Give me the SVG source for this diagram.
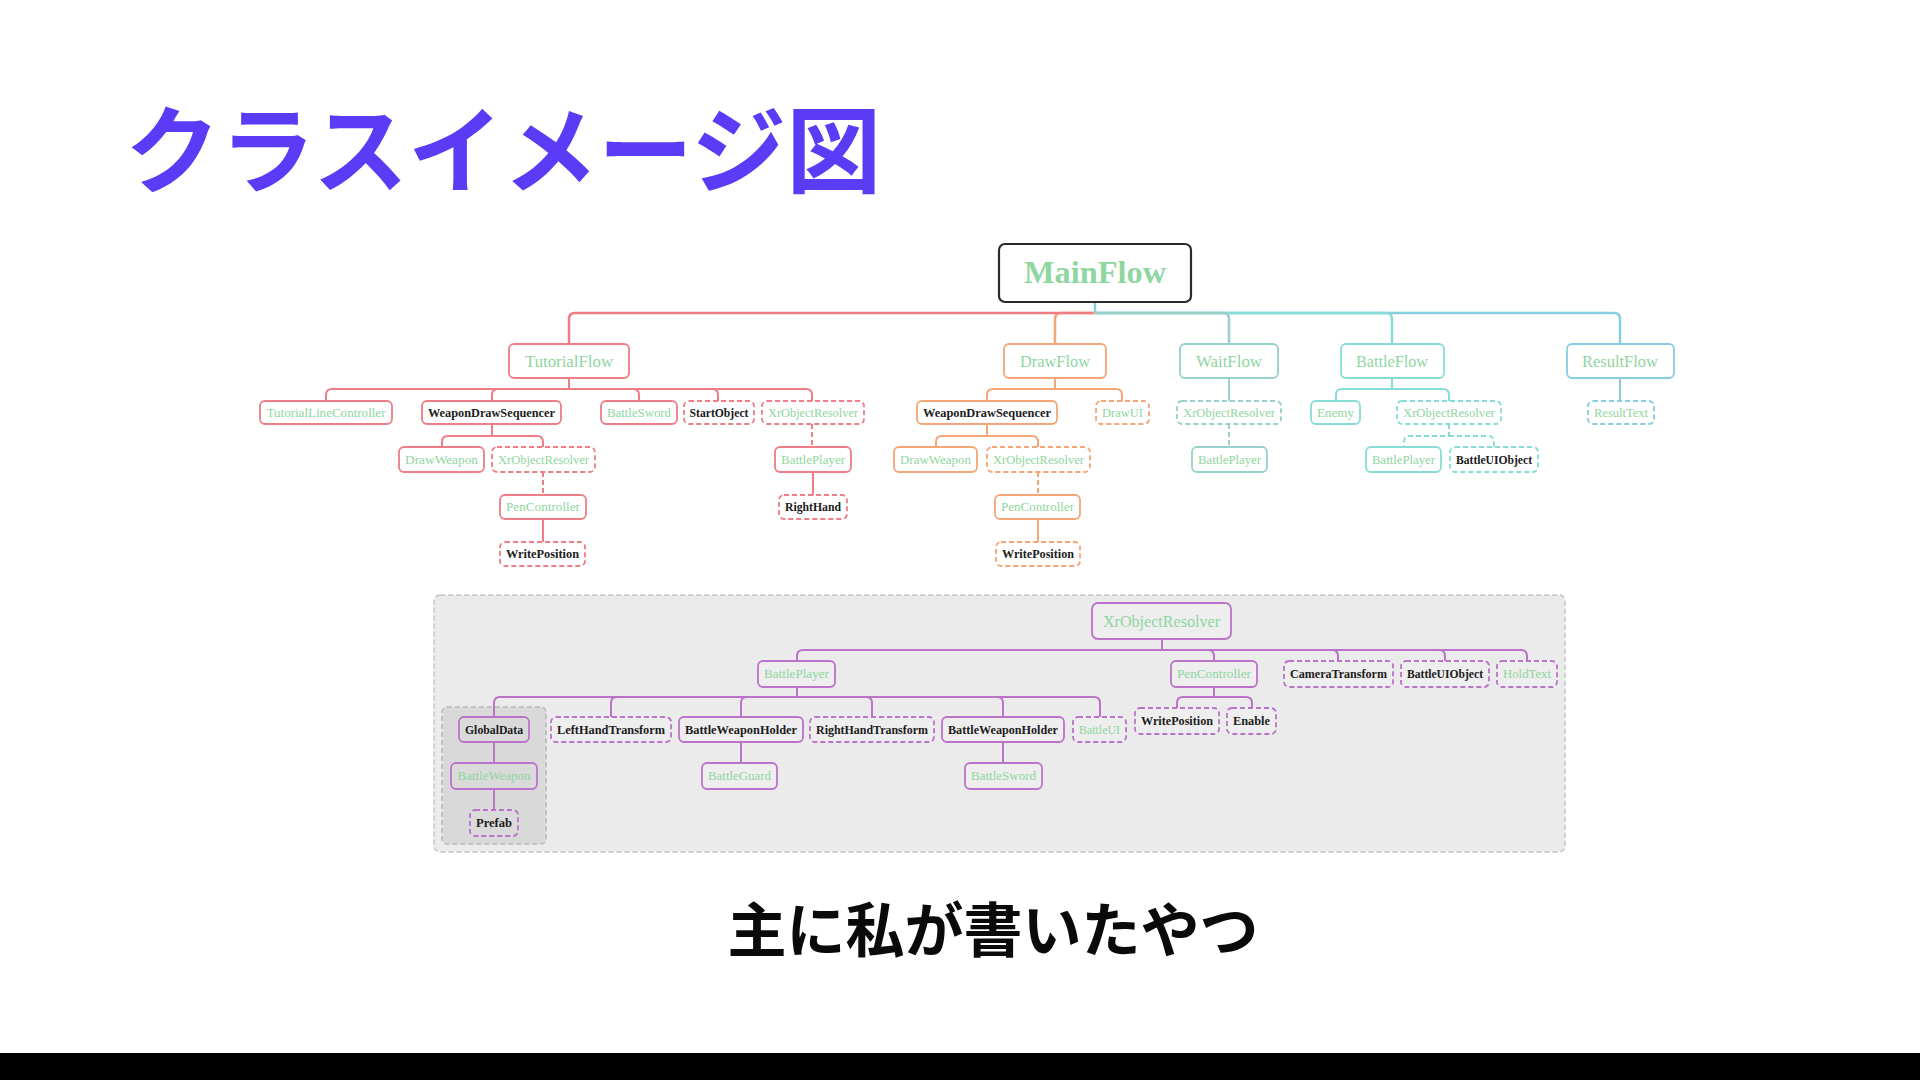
<svg xmlns="http://www.w3.org/2000/svg" width="1920" height="1080" viewBox="0 0 1920 1080">
<style>
.n rect{fill:#fff;stroke-width:1.8}
.pn rect{fill:#eeeeee}
.in rect{fill:#dadada}
.d rect{stroke-dasharray:5 3}
.r rect{stroke:#ee7d86}.o rect{stroke:#f4a677}.t1 rect{stroke:#98d0cc}.t2 rect{stroke:#88dcd6}.t3 rect{stroke:#86cde0}.p rect{stroke:#bb72c9}
text{font-family:"Liberation Serif","DejaVu Serif",serif;text-anchor:middle}
.s{font-size:11.5px}.m{font-size:16px}
.g{fill:#8fd6a0}.k{fill:#1c1c1c;font-weight:bold}
#connectors path{fill:none;stroke-width:2}
#connectors .cr{stroke:#ee7d86}#connectors .co{stroke:#f4a677}#connectors .c1{stroke:#98d0cc}#connectors .c2{stroke:#88dcd6}#connectors .c3{stroke:#86cde0}#connectors .cp{stroke:#bb72c9}
#connectors .dash{stroke-dasharray:5 3}
#connectors .main{stroke-width:2.5}
</style>
<rect x="0" y="0" width="1920" height="1080" fill="#ffffff"/>
<text x="125" y="186" style="font-family:'Noto Sans CJK JP','Noto Sans CJK SC',sans-serif;font-size:95px;font-weight:bold;fill:#5b3bf5;text-anchor:start">クラスイメージ図</text>

<g id="panel">
<rect x="434" y="595" width="1131" height="257" rx="6" fill="#ebebeb" stroke="#c4c4c4" stroke-width="1.5" stroke-dasharray="5 3"/>
<rect x="442" y="707" width="104" height="137" rx="5" fill="#d9d9d9" stroke="#b8b8b8" stroke-width="1.5" stroke-dasharray="5 3"/>
</g>

<g id="connectors">
<path class="c3 main" d="M1095 302 V313 H1614 Q1620 313 1620 319 V344"/>
<path class="c2 main" d="M1095 313 H1386 Q1392 313 1392 319 V344"/>
<path class="c1 main" d="M1095 313 H1223 Q1229 313 1229 319 V344"/>
<path class="co main" d="M1095 313 H1061 Q1055 313 1055 319 V344"/>
<path class="cr main" d="M1093 313 H575 Q569 313 569 319 V344"/>
<path class="cr" d="M569 378 V389 H332 Q326 389 326 395 V401"/>
<path class="cr" d="M569 389 H498 Q492 389 492 395 V401"/>
<path class="cr" d="M569 389 H633 Q639 389 639 395 V401"/>
<path class="cr" d="M569 389 H712 Q718 389 718 395 V401"/>
<path class="cr" d="M569 389 H806 Q812 389 812 395 V401"/>
<path class="cr" d="M492 424 V436 H448 Q442 436 442 442 V447"/>
<path class="cr" d="M492 436 H537 Q543 436 543 442 V447"/>
<path class="cr dash" d="M543 472 V495"/>
<path class="cr" d="M543 519 V542"/>
<path class="cr dash" d="M812 424 V447"/>
<path class="cr" d="M813 472 V495"/>
<path class="co" d="M1055 378 V389 H993 Q987 389 987 395 V401"/>
<path class="co" d="M1055 389 H1116 Q1122 389 1122 395 V401"/>
<path class="co" d="M987 424 V436 H942 Q936 436 936 442 V447"/>
<path class="co" d="M987 436 H1032 Q1038 436 1038 442 V447"/>
<path class="co dash" d="M1038 472 V495"/>
<path class="co" d="M1038 519 V542"/>
<path class="c1" d="M1229 378 V401"/>
<path class="c1 dash" d="M1229 424 V447"/>
<path class="c2" d="M1392 378 V389 H1342 Q1336 389 1336 395 V401"/>
<path class="c2" d="M1392 389 H1443 Q1449 389 1449 395 V401"/>
<path class="c2 dash" d="M1449 424 V436 H1410 Q1404 436 1404 442 V447"/>
<path class="c2 dash" d="M1449 436 H1488 Q1494 436 1494 442 V447"/>
<path class="c3" d="M1620 378 V401"/>
<path class="cp" d="M1162 639 V650 H803 Q797 650 797 656 V661"/>
<path class="cp" d="M1162 650 H1208 Q1214 650 1214 656 V661"/>
<path class="cp" d="M1162 650 H1332 Q1338 650 1338 656 V661"/>
<path class="cp" d="M1162 650 H1439 Q1445 650 1445 656 V661"/>
<path class="cp" d="M1162 650 H1521 Q1527 650 1527 656 V661"/>
<path class="cp" d="M797 687 V697 H500 Q494 697 494 703 V717"/>
<path class="cp" d="M797 697 H617 Q611 697 611 703 V717"/>
<path class="cp" d="M797 697 H747 Q741 697 741 703 V717"/>
<path class="cp" d="M797 697 H866 Q872 697 872 703 V717"/>
<path class="cp" d="M797 697 H997 Q1003 697 1003 703 V717"/>
<path class="cp" d="M797 697 H1094 Q1100 697 1100 703 V717"/>
<path class="cp" d="M1214 687 V697 H1183 Q1177 697 1177 703 V708"/>
<path class="cp" d="M1214 697 H1246 Q1252 697 1252 703 V708"/>
<path class="cp" d="M494 742 V763"/>
<path class="cp" d="M494 789 V810"/>
<path class="cp" d="M741 742 V763"/>
<path class="cp" d="M1003 742 V763"/>
</g>

<g id="mainflow"><rect x="999" y="244" width="192" height="58" rx="6" fill="#fff" stroke="#2a2a2a" stroke-width="2.2"/><text x="1095" y="283" textLength="142" lengthAdjust="spacingAndGlyphs" style="font-size:32px;font-weight:bold;fill:#8fd6a0">MainFlow</text></g>

<g id="tutorialflow" class="n r"><rect x="509" y="344" width="120" height="34" rx="5"/><text class="m g" x="569" y="366.5" textLength="88" lengthAdjust="spacingAndGlyphs">TutorialFlow</text></g>
<g id="drawflow" class="n o"><rect x="1004" y="344" width="102" height="34" rx="5"/><text class="m g" x="1055" y="366.5" textLength="70" lengthAdjust="spacingAndGlyphs">DrawFlow</text></g>
<g id="waitflow" class="n t1"><rect x="1180" y="344" width="98" height="34" rx="5"/><text class="m g" x="1229" y="366.5" textLength="66" lengthAdjust="spacingAndGlyphs">WaitFlow</text></g>
<g id="battleflow" class="n t2"><rect x="1341" y="344" width="103" height="34" rx="5"/><text class="m g" x="1392" y="366.5" textLength="72" lengthAdjust="spacingAndGlyphs">BattleFlow</text></g>
<g id="resultflow" class="n t3"><rect x="1567" y="344" width="107" height="34" rx="5"/><text class="m g" x="1620" y="366.5" textLength="76" lengthAdjust="spacingAndGlyphs">ResultFlow</text></g>

<g id="t-tutoriallinecontroller" class="n r"><rect x="260" y="401" width="132" height="23" rx="5"/><text class="s g" x="326" y="416.5" textLength="119" lengthAdjust="spacingAndGlyphs">TutorialLineController</text></g>
<g id="t-weapondrawsequencer" class="n r"><rect x="422" y="401" width="139" height="23" rx="5"/><text class="s k" x="491.5" y="416.5" textLength="127" lengthAdjust="spacingAndGlyphs">WeaponDrawSequencer</text></g>
<g id="t-battlesword" class="n r"><rect x="601" y="401" width="76" height="23" rx="5"/><text class="s g" x="639" y="416.5" textLength="64" lengthAdjust="spacingAndGlyphs">BattleSword</text></g>
<g id="t-startobject" class="n r d"><rect x="684" y="401" width="70" height="23" rx="5"/><text class="s k" x="719" y="416.5" textLength="59" lengthAdjust="spacingAndGlyphs">StartObject</text></g>
<g id="t-xrobjectresolver" class="n r d"><rect x="762" y="401" width="102" height="23" rx="5"/><text class="s g" x="813" y="416.5" textLength="90" lengthAdjust="spacingAndGlyphs">XrObjectResolver</text></g>
<g id="t-drawweapon" class="n r"><rect x="399" y="447" width="85" height="25" rx="5"/><text class="s g" x="441.5" y="463.5" textLength="73" lengthAdjust="spacingAndGlyphs">DrawWeapon</text></g>
<g id="t-xrobjectresolver2" class="n r d"><rect x="492" y="447" width="103" height="25" rx="5"/><text class="s g" x="543.5" y="463.5" textLength="91" lengthAdjust="spacingAndGlyphs">XrObjectResolver</text></g>
<g id="t-battleplayer" class="n r"><rect x="775" y="447" width="76" height="25" rx="5"/><text class="s g" x="813" y="463.5" textLength="64" lengthAdjust="spacingAndGlyphs">BattlePlayer</text></g>
<g id="t-pencontroller" class="n r"><rect x="500" y="495" width="86" height="24" rx="5"/><text class="s g" x="543" y="511" textLength="74" lengthAdjust="spacingAndGlyphs">PenController</text></g>
<g id="t-righthand" class="n r d"><rect x="779" y="495" width="68" height="24" rx="5"/><text class="s k" x="813" y="511" textLength="56" lengthAdjust="spacingAndGlyphs">RightHand</text></g>
<g id="t-writeposition" class="n r d"><rect x="500" y="542" width="85" height="24" rx="5"/><text class="s k" x="542.5" y="558" textLength="73" lengthAdjust="spacingAndGlyphs">WritePosition</text></g>

<g id="d-weapondrawsequencer" class="n o"><rect x="917" y="401" width="140" height="23" rx="5"/><text class="s k" x="987" y="416.5" textLength="128" lengthAdjust="spacingAndGlyphs">WeaponDrawSequencer</text></g>
<g id="d-drawui" class="n o d"><rect x="1096" y="401" width="53" height="23" rx="5"/><text class="s g" x="1122.5" y="416.5" textLength="41" lengthAdjust="spacingAndGlyphs">DrawUI</text></g>
<g id="d-drawweapon" class="n o"><rect x="894" y="447" width="83" height="25" rx="5"/><text class="s g" x="935.5" y="463.5" textLength="71" lengthAdjust="spacingAndGlyphs">DrawWeapon</text></g>
<g id="d-xrobjectresolver" class="n o d"><rect x="987" y="447" width="103" height="25" rx="5"/><text class="s g" x="1038.5" y="463.5" textLength="91" lengthAdjust="spacingAndGlyphs">XrObjectResolver</text></g>
<g id="d-pencontroller" class="n o"><rect x="995" y="495" width="85" height="24" rx="5"/><text class="s g" x="1037.5" y="511" textLength="73" lengthAdjust="spacingAndGlyphs">PenController</text></g>
<g id="d-writeposition" class="n o d"><rect x="996" y="542" width="84" height="24" rx="5"/><text class="s k" x="1038" y="558" textLength="72" lengthAdjust="spacingAndGlyphs">WritePosition</text></g>

<g id="w-xrobjectresolver" class="n t1 d"><rect x="1177" y="401" width="104" height="23" rx="5"/><text class="s g" x="1229" y="416.5" textLength="92" lengthAdjust="spacingAndGlyphs">XrObjectResolver</text></g>
<g id="w-battleplayer" class="n t1"><rect x="1192" y="447" width="75" height="25" rx="5"/><text class="s g" x="1229.5" y="463.5" textLength="63" lengthAdjust="spacingAndGlyphs">BattlePlayer</text></g>

<g id="b-enemy" class="n t2"><rect x="1311" y="401" width="49" height="23" rx="5"/><text class="s g" x="1335.5" y="416.5" textLength="37" lengthAdjust="spacingAndGlyphs">Enemy</text></g>
<g id="b-xrobjectresolver" class="n t2 d"><rect x="1397" y="401" width="104" height="23" rx="5"/><text class="s g" x="1449" y="416.5" textLength="92" lengthAdjust="spacingAndGlyphs">XrObjectResolver</text></g>
<g id="b-battleplayer" class="n t2"><rect x="1366" y="447" width="75" height="25" rx="5"/><text class="s g" x="1403.5" y="463.5" textLength="63" lengthAdjust="spacingAndGlyphs">BattlePlayer</text></g>
<g id="b-battleuiobject" class="n t2 d"><rect x="1450" y="447" width="88" height="25" rx="5"/><text class="s k" x="1494" y="463.5" textLength="76" lengthAdjust="spacingAndGlyphs">BattleUIObject</text></g>

<g id="r-resulttext" class="n t3 d"><rect x="1588" y="401" width="66" height="23" rx="5"/><text class="s g" x="1621" y="416.5" textLength="54" lengthAdjust="spacingAndGlyphs">ResultText</text></g>

<g id="p-xrobjectresolver" class="n pn p"><rect x="1092" y="603" width="139" height="36" rx="6"/><text class="m g" x="1161.5" y="626.5" textLength="117" lengthAdjust="spacingAndGlyphs">XrObjectResolver</text></g>
<g id="p-battleplayer" class="n pn p"><rect x="758" y="661" width="77" height="26" rx="5"/><text class="s g" x="796.5" y="678" textLength="65" lengthAdjust="spacingAndGlyphs">BattlePlayer</text></g>
<g id="p-pencontroller" class="n pn p"><rect x="1171" y="661" width="86" height="26" rx="5"/><text class="s g" x="1214" y="678" textLength="74" lengthAdjust="spacingAndGlyphs">PenController</text></g>
<g id="p-cameratransform" class="n pn p d"><rect x="1284" y="661" width="109" height="26" rx="5"/><text class="s k" x="1338.5" y="678" textLength="97" lengthAdjust="spacingAndGlyphs">CameraTransform</text></g>
<g id="p-battleuiobject" class="n pn p d"><rect x="1401" y="661" width="88" height="26" rx="5"/><text class="s k" x="1445" y="678" textLength="76" lengthAdjust="spacingAndGlyphs">BattleUIObject</text></g>
<g id="p-holdtext" class="n pn p d"><rect x="1497" y="661" width="60" height="26" rx="5"/><text class="s g" x="1527" y="678" textLength="48" lengthAdjust="spacingAndGlyphs">HoldText</text></g>
<g id="p-writeposition" class="n pn p d"><rect x="1135" y="708" width="84" height="26" rx="5"/><text class="s k" x="1177" y="725" textLength="72" lengthAdjust="spacingAndGlyphs">WritePosition</text></g>
<g id="p-enable" class="n pn p d"><rect x="1227" y="708" width="49" height="26" rx="5"/><text class="s k" x="1251.5" y="725" textLength="37" lengthAdjust="spacingAndGlyphs">Enable</text></g>
<g id="p-globaldata" class="n in p"><rect x="459" y="717" width="70" height="25" rx="5"/><text class="s k" x="494" y="733.5" textLength="58" lengthAdjust="spacingAndGlyphs">GlobalData</text></g>
<g id="p-lefthandtransform" class="n pn p d"><rect x="551" y="717" width="120" height="25" rx="5"/><text class="s k" x="611" y="733.5" textLength="108" lengthAdjust="spacingAndGlyphs">LeftHandTransform</text></g>
<g id="p-battleweaponholder" class="n pn p"><rect x="679" y="717" width="124" height="25" rx="5"/><text class="s k" x="741" y="733.5" textLength="112" lengthAdjust="spacingAndGlyphs">BattleWeaponHolder</text></g>
<g id="p-righthandtransform" class="n pn p d"><rect x="810" y="717" width="124" height="25" rx="5"/><text class="s k" x="872" y="733.5" textLength="112" lengthAdjust="spacingAndGlyphs">RightHandTransform</text></g>
<g id="p-battleweaponholder2" class="n pn p"><rect x="942" y="717" width="122" height="25" rx="5"/><text class="s k" x="1003" y="733.5" textLength="110" lengthAdjust="spacingAndGlyphs">BattleWeaponHolder</text></g>
<g id="p-battleui" class="n pn p d"><rect x="1073" y="717" width="53" height="25" rx="5"/><text class="s g" x="1099.5" y="733.5" textLength="41" lengthAdjust="spacingAndGlyphs">BattleUI</text></g>
<g id="p-battleweapon" class="n in p"><rect x="451" y="763" width="86" height="26" rx="5"/><text class="s g" x="494" y="780" textLength="73" lengthAdjust="spacingAndGlyphs">BattleWeapon</text></g>
<g id="p-prefab" class="n in p d"><rect x="470" y="810" width="48" height="26" rx="5"/><text class="s k" x="494" y="827" textLength="36" lengthAdjust="spacingAndGlyphs">Prefab</text></g>
<g id="p-battleguard" class="n pn p"><rect x="702" y="763" width="75" height="26" rx="5"/><text class="s g" x="739.5" y="780" textLength="63" lengthAdjust="spacingAndGlyphs">BattleGuard</text></g>
<g id="p-battlesword" class="n pn p"><rect x="965" y="763" width="77" height="26" rx="5"/><text class="s g" x="1003.5" y="780" textLength="65" lengthAdjust="spacingAndGlyphs">BattleSword</text></g>

<text x="993" y="952" style="font-family:'Noto Sans CJK JP','Noto Sans CJK SC',sans-serif;font-size:59px;font-weight:bold;fill:#0a0a0a">主に私が書いたやつ</text>
<rect x="0" y="1053" width="1920" height="27" fill="#000000"/>
</svg>
